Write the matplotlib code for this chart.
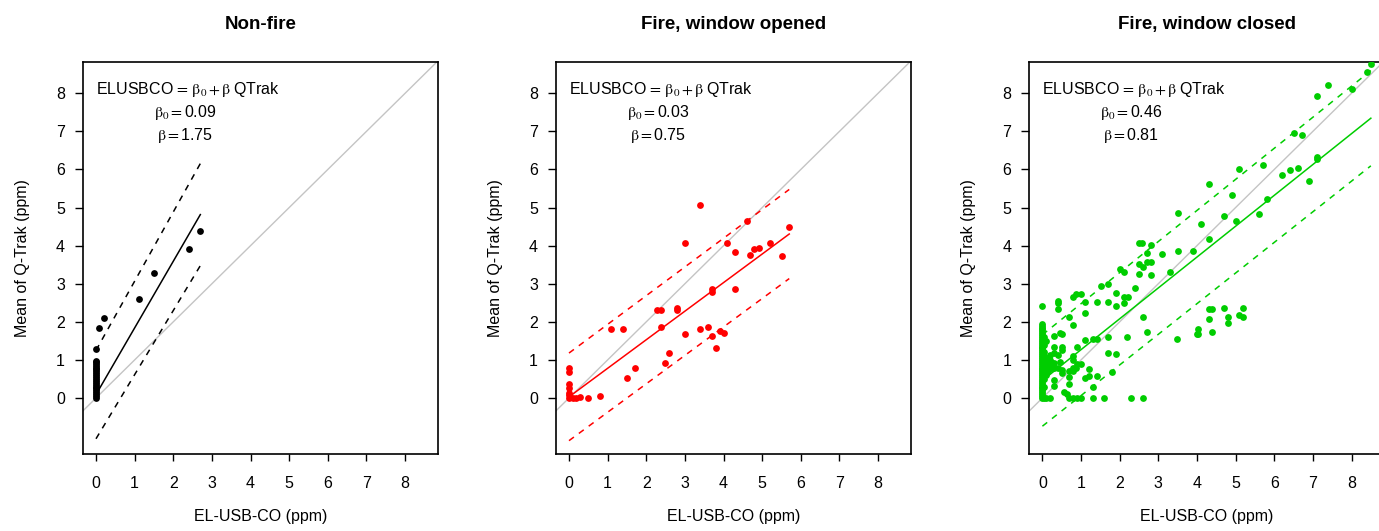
import matplotlib
matplotlib.use("Agg")
import matplotlib.pyplot as plt
import numpy as np

plt.rcParams["font.family"] = ["Liberation Sans", "DejaVu Sans"]
plt.rcParams["mathtext.fontset"] = "stix"

titles = ["Non-fire", "Fire, window opened", "Fire, window closed"]
colors = ["black", "#ff0000", "#00cd00"]

# fitted coefficients shown in each panel
b0 = [0.09, 0.03, 0.46]
b1 = [1.75, 0.75, 0.81]
# x range of the fitted line and half width of the dashed band (start, end)
fit_x = [(0.0, 2.7), (0.0, 5.7), (0.0, 8.5)]
band = [(1.16, 1.34), (1.15, 1.17), (1.2, 1.25)]

# --- Non-fire
x1 = [0.0] * 21 + [0.01, 0.09, 0.2, 1.1, 1.5, 2.4, 2.7]
y1 = [0.0, 0.05, 0.1, 0.15, 0.2, 0.25, 0.3, 0.35, 0.4, 0.45, 0.5,
      0.55, 0.6, 0.65, 0.7, 0.75, 0.8, 0.85, 0.9, 0.95, 0.98,
      1.29, 1.85, 2.1, 2.6, 3.29, 3.91, 4.39]

# --- Fire, window opened
x2 = [3.40, 4.61, 5.70, 3.00, 4.10, 5.20, 4.30, 4.80, 4.91, 4.69, 5.50,
      3.70, 3.70, 4.30, 2.29, 2.39, 2.79, 2.80, 2.39, 1.09, 1.40, 2.99,
      3.39, 3.61, 3.71, 3.92, 4.00, 3.80, 2.60, 2.49, 1.71, 1.50,
      0.0, 0.0, 0.0, 0.0, 0.0, 0.0, 0.0,
      0.1, 0.18, 0.28, 0.49, 0.80]
y2 = [5.06, 4.65, 4.50, 4.08, 4.06, 4.08, 3.83, 3.91, 3.95, 3.75, 3.74,
      2.86, 2.79, 2.85, 2.31, 2.31, 2.37, 2.30, 1.86, 1.82, 1.80, 1.67,
      1.80, 1.86, 1.62, 1.75, 1.71, 1.31, 1.19, 0.91, 0.78, 0.53,
      0.79, 0.67, 0.36, 0.25, 0.14, 0.07, 0.0,
      0.0, 0.0, 0.02, 0.0, 0.05]

# --- Fire, window closed
x3 = ([0.0] * 41 + [0.05] * 11 + [0.1] * 7 + [0.15] * 4 + [0.2] * 5
      + [0.25] * 2 + [0.3] * 7 + [0.4] * 5 + [0.45] * 2 + [0.5] * 5
      + [0.55, 0.63] + [0.7] * 5 + [0.78, 0.8, 0.8, 0.8, 0.8, 0.8, 0.8]
      + [0.87, 0.87, 0.9, 0.9, 0.9, 1.0, 1.0, 1.0]
      + [1.1, 1.1, 1.1, 1.1, 1.2, 1.2, 1.3, 1.3, 1.32, 1.4, 1.4, 1.4]
      + [1.51, 1.59, 1.7, 1.7, 1.7, 1.7, 1.79, 1.9, 1.9, 1.9, 2.01]
      + [2.11, 2.11, 2.11, 2.2, 2.21, 2.3, 2.4, 2.5, 2.5, 2.5, 2.59]
      + [2.6, 2.6, 2.6, 2.7, 2.7, 2.7, 2.81, 2.81, 2.81, 3.1, 3.3]
      + [3.49, 3.5, 3.5, 3.9, 4.0, 4.03, 4.03, 4.11, 4.31, 4.31, 4.31, 4.31]
      + [4.4, 4.4, 4.71, 4.71, 4.81, 4.81, 4.9, 5.0, 5.1, 5.1, 5.2, 5.2]
      + [5.6, 5.71, 5.81, 6.21, 6.41, 6.51, 6.61, 6.71, 6.91, 7.1, 7.1]
      + [7.11, 7.4, 8.0, 8.41, 8.51])
y3 = ([0.0, 0.05, 0.1, 0.15, 0.2, 0.25, 0.3, 0.35, 0.4, 0.45, 0.5, 0.55,
       0.6, 0.65, 0.7, 0.75, 0.8, 0.85, 0.9, 0.95, 1.0, 1.05, 1.1, 1.15,
       1.2, 1.25, 1.3, 1.35, 1.4, 1.45, 1.5, 1.55, 1.6, 1.65, 1.7, 1.75,
       1.8, 1.85, 1.9, 1.95, 2.42]
      + [0.0, 0.3, 0.5, 0.7, 0.8, 0.9, 1.0, 1.1, 1.2, 1.4, 1.6]
      + [0.0, 0.75, 0.85, 0.95, 1.05, 0.6, 1.5]
      + [0.8, 0.9, 1.0, 0.7]
      + [0.0, 0.78, 0.88, 1.0, 1.12]
      + [0.8, 0.92]
      + [0.31, 0.48, 0.8, 0.92, 1.18, 1.35, 1.64]
      + [0.8, 1.12, 2.34, 2.49, 2.55]
      + [0.95, 1.7]
      + [0.66, 0.73, 1.26, 1.33, 1.68]
      + [0.17, 0.11]
      + [0.0, 0.38, 0.55, 0.72, 2.13]
      + [0.78, 0.0, 0.7, 1.0, 1.09, 2.66, 1.92]
      + [0.8, 2.72, 0.0, 0.88, 1.35, 0.0, 0.88, 2.72]
      + [0.53, 1.52, 2.22, 2.53, 0.57, 0.76, 0.0, 1.55, 0.28, 0.59, 1.55, 2.53]
      + [2.95, 0.0, 1.18, 1.6, 2.98, 2.51, 0.69, 1.15, 2.41, 2.75, 3.39]
      + [2.5, 2.66, 3.3, 1.6, 2.66, 0.0, 2.9, 3.25, 3.53, 4.06, 4.08]
      + [0.0, 2.13, 3.45, 1.73, 3.56, 3.81, 3.58, 4.02, 3.22, 3.79, 3.32]
      + [1.56, 4.86, 3.86, 3.87, 1.68, 1.68, 1.8, 4.57, 5.63, 4.17, 2.33, 2.08]
      + [2.33, 1.72, 4.78, 2.37, 2.12, 1.98, 5.32, 4.64, 6.01, 2.17, 2.37, 2.12]
      + [4.83, 6.12, 5.22, 5.85, 5.98, 6.96, 6.04, 6.9, 5.7, 6.33, 6.28]
      + [7.93, 8.22, 8.12, 8.55, 8.78])

xs = [x1, x2, x3]
ys = [y1, y2, y3]

fig = plt.figure(figsize=(13.79, 5.31), dpi=100)
lefts = [0.0602, 0.4032, 0.7465]

for i in range(3):
    ax = fig.add_axes([lefts[i], 0.145, 0.2574, 0.7382])
    ax.set_xlim(-0.336, 8.85)
    ax.set_ylim(-1.47, 8.82)

    # 1:1 reference line
    ax.plot([-1, 10], [-1, 10], color="#c4c4c4", lw=1.0, zorder=1)

    xf = np.linspace(fit_x[i][0], fit_x[i][1], 50)
    yf = b0[i] + b1[i] * xf
    hw = np.linspace(band[i][0], band[i][1], 50)
    ax.plot(xf, yf, color=colors[i], lw=1.1, zorder=2)
    ax.plot(xf, yf + hw, color=colors[i], lw=1.1, dashes=(4, 4), zorder=2)
    ax.plot(xf, yf - hw, color=colors[i], lw=1.1, dashes=(4, 4), zorder=2)

    ax.scatter(xs[i], ys[i], s=24, color=colors[i], linewidths=0, zorder=3)

    ax.text(0.0, 8.1,
            r"ELUSBCO$\,=\,\mathrm{\beta}_0+\mathrm{\beta}\;$QTrak",
            fontsize=11.5, ha="left", va="center")
    ax.text(2.3, 7.5, r"$\mathrm{\beta}_0=$" + f"{b0[i]:.2f}", fontsize=11.5,
            ha="center", va="center")
    ax.text(2.3, 6.9, r"$\mathrm{\beta}=$" + f"{b1[i]:.2f}", fontsize=11.5,
            ha="center", va="center")

    ax.set_xticks(range(9))
    ax.set_yticks(range(9))
    ax.tick_params(axis="x", length=5, width=1, pad=11, labelsize=11.5)
    ax.tick_params(axis="y", length=6, width=1, pad=7, labelsize=11.5)
    for sp in ax.spines.values():
        sp.set_linewidth(1.2)

    ax.set_xlabel("EL-USB-CO (ppm)", fontsize=11.5, labelpad=13)
    ax.set_ylabel("Mean of Q-Trak (ppm)", fontsize=11.5, labelpad=19)
    ax.set_title(titles[i], fontsize=13.5, fontweight="bold", pad=24)

fig.savefig("out.png", dpi=100)
